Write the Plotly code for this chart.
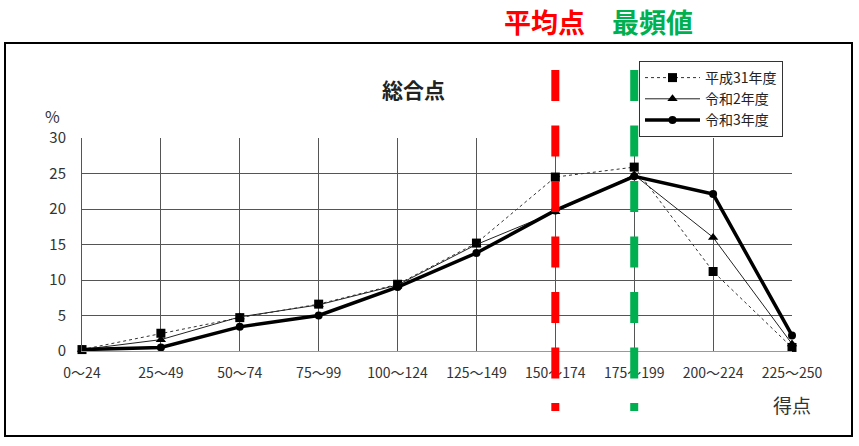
import plotly.graph_objects as go

categories = ["0～24", "25～49", "50～74", "75～99", "100～124",
              "125～149", "150～174", "175～199", "200～224", "225～250"]
h31 = [0.2, 2.5, 4.7, 6.6, 9.4, 15.2, 24.5, 25.9, 11.2, 0.5]
r2 = [0.2, 1.6, 4.8, 6.5, 9.3, 15.0, 19.6, 24.8, 16.0, 1.0]
r3 = [0.2, 0.5, 3.4, 5.0, 9.0, 13.8, 19.8, 24.6, 22.1, 2.2]
series_names = ["平成31年度", "令和2年度", "令和3年度"]
y_ticks = [0, 5, 10, 15, 20, 25, 30]
mean_cat = "150～174"
mode_cat = "175～199"

W, H = 859, 446
L, R, T, B = 82, 792, 138, 351  # plot area in pixels


def px(xp):
    return (xp - L) / (R - L)


def py(yp):
    return (B - yp) / (B - T)


FONT = "Noto Sans CJK JP, Noto Sans, sans-serif"
xs = list(range(len(categories)))

fig = go.Figure()
fig.add_trace(go.Scatter(
    x=xs, y=h31, name=series_names[0], mode="lines+markers",
    line=dict(color="#333333", width=1, dash="dot"),
    marker=dict(symbol="square", size=9, color="black"), cliponaxis=False))
fig.add_trace(go.Scatter(
    x=xs, y=r2, name=series_names[1], mode="lines+markers",
    line=dict(color="#222222", width=1),
    marker=dict(symbol="triangle-up", size=9, color="black"), cliponaxis=False))
fig.add_trace(go.Scatter(
    x=xs, y=r3, name=series_names[2], mode="lines+markers",
    line=dict(color="black", width=3.5),
    marker=dict(symbol="circle", size=8, color="black"), cliponaxis=False))

shapes = []
# outer border
shapes.append(dict(type="rect", xref="paper", yref="paper",
                   x0=px(5), x1=px(852), y0=py(43), y1=py(436),
                   line=dict(color="black", width=2), layer="below"))
# dashed mean / mode lines
for cat, col in [(mean_cat, "#FF0000"), (mode_cat, "#00B050")]:
    xi = categories.index(cat)
    shapes.append(dict(type="line", xref="x", yref="paper",
                       x0=xi, x1=xi, y0=py(70), y1=py(411),
                       line=dict(color=col, width=8, dash="31px,24.5px"),
                       layer="above"))

annotations = [
    dict(text="<b>総合点</b>", x=px(413), y=py(89), xref="paper", yref="paper",
         showarrow=False, font=dict(size=21, color="#222222", family=FONT),
         xanchor="center", yanchor="middle"),
    dict(text="%", x=px(52), y=py(116), xref="paper", yref="paper",
         showarrow=False, font=dict(size=16, color="#333333", family=FONT),
         xanchor="center", yanchor="middle"),
    dict(text="得点", x=px(792), y=py(404), xref="paper", yref="paper",
         showarrow=False, font=dict(size=19, color="#333333", family=FONT),
         xanchor="center", yanchor="middle"),
    dict(text="<b>平均点</b>", x=px(544), y=py(21), xref="paper", yref="paper",
         showarrow=False, font=dict(size=27, color="#FF0000", family=FONT),
         xanchor="center", yanchor="middle"),
    dict(text="<b>最頻値</b>", x=px(652), y=py(21), xref="paper", yref="paper",
         showarrow=False, font=dict(size=27, color="#00B050", family=FONT),
         xanchor="center", yanchor="middle"),
]

fig.update_layout(
    width=W, height=H,
    margin=dict(l=L, r=W - R, t=T, b=H - B, pad=0),
    paper_bgcolor="white", plot_bgcolor="white",
    font=dict(family=FONT, color="#333333"),
    shapes=shapes, annotations=annotations,
    showlegend=True,
    legend=dict(x=px(639), y=py(61), xanchor="left", yanchor="top",
                bgcolor="white", bordercolor="#333333", borderwidth=1,
                font=dict(size=14, color="#222222", family=FONT),
                tracegroupgap=0, itemwidth=55),
    xaxis=dict(range=[0, len(categories) - 1], tickmode="array",
               tickvals=xs, ticktext=categories,
               showgrid=True, gridcolor="#555555", gridwidth=1,
               zeroline=False, showline=True, linecolor="#999999",
               ticks="outside", ticklen=9, tickcolor="rgba(0,0,0,0)",
               tickfont=dict(size=14, color="#333333", family=FONT)),
    yaxis=dict(range=[0, 30], tickmode="array", tickvals=y_ticks,
               showgrid=True, gridcolor="#555555", gridwidth=1,
               zeroline=False, showline=True, linecolor="#555555",
               ticks="outside", ticklen=12, tickcolor="rgba(0,0,0,0)",
               tickfont=dict(size=15, color="#333333", family=FONT)),
)

fig.write_html("out.html",
               config={"displayModeBar": False},
               post_script="document.body.style.margin='0';"
                           "document.body.style.overflow='hidden';")
